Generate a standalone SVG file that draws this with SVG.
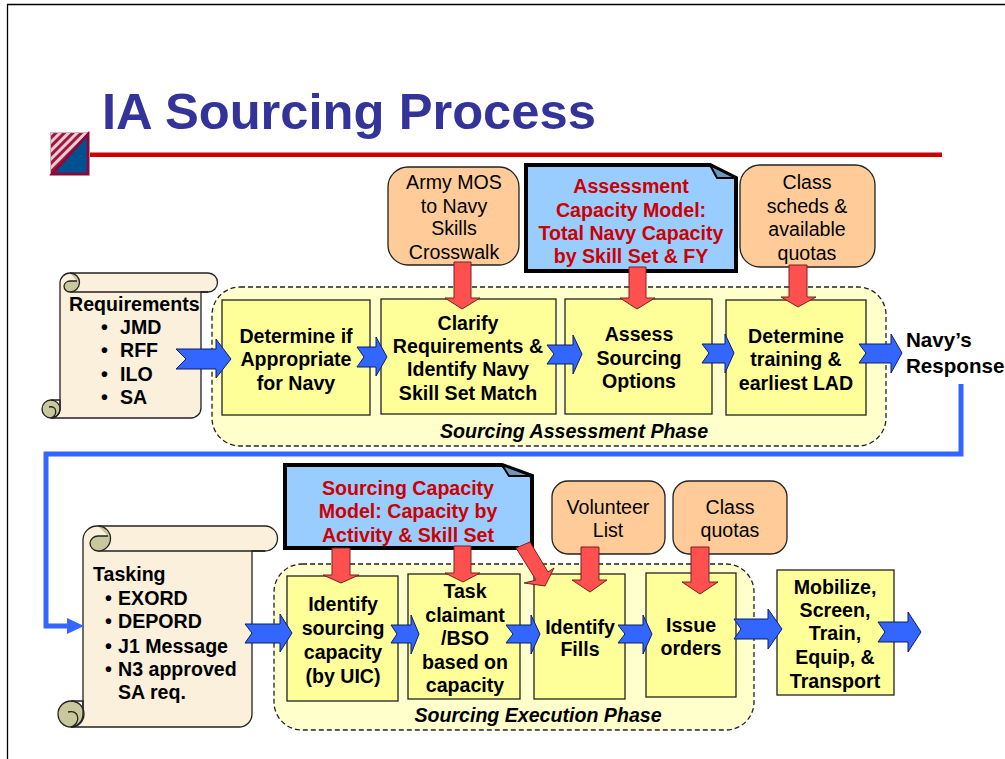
<svg xmlns="http://www.w3.org/2000/svg" width="1005" height="759" viewBox="0 0 1005 759">
<style>
text{font-family:"Liberation Sans",Arial,sans-serif;font-weight:bold;font-size:19.6px;fill:#000;text-anchor:middle;transform:translateY(.7px)}
.title{font-size:50.7px;fill:#333399;text-anchor:start}
.reg{font-weight:normal;font-size:19.6px}
.red{fill:#cc0000}
.phase{font-style:italic;font-size:19.6px}
.start{text-anchor:start}
.big{font-size:20.6px;text-anchor:start}
.cont{fill:#ffffcc;stroke:#222;stroke-width:1.3;stroke-dasharray:5 3}
.box{fill:#ffff99;stroke:#222;stroke-width:1.3}
.orange{fill:#ffcc99;stroke:#222;stroke-width:1.3}
.note{fill:#99ccff;stroke:#000;stroke-width:4;stroke-linejoin:miter}
.fold{fill:#6f96bd;stroke:#000;stroke-width:2}
.scroll{fill:#faf0dc;stroke:#222;stroke-width:1.3}
.line{fill:none;stroke:#222;stroke-width:1.3}
.curl{fill:#c8c89c;stroke:#222;stroke-width:1.3}
.blue{fill:#3366ff;stroke:#0a1f66;stroke-width:1}
.redarrow{fill:#ff5050;stroke:#7a2020;stroke-width:1}
.flow{fill:none;stroke:#3366ff;stroke-width:5}
</style>
<defs>
<pattern id="hatch" width="6" height="6" patternUnits="userSpaceOnUse" patternTransform="rotate(45)">
<rect width="6" height="6" fill="#ddd0d4"/><rect width="3" height="6" fill="#a8123f"/>
</pattern>
</defs>

<g id="frame"><path d="M7.5 759V4.5H1005" fill="none" stroke="#000" stroke-width="1.3"/></g>

<g id="header">
<rect x="89" y="152.500" width="853" height="4.500" fill="#cc0000"/>
<rect x="50" y="132" width="40" height="44" fill="#c9b8bf"/>
<rect x="51" y="133" width="38" height="42" fill="url(#hatch)"/>
<path d="M88 134V174H52Z" fill="#005190" stroke="#990033" stroke-width="2.500"/>
<text class="title" x="102" y="128">IA Sourcing Process</text>
</g>

<g id="phase-assessment">
<rect class="cont" x="212" y="287" width="674" height="159" rx="28"/>
<text class="phase" x="574" y="437">Sourcing Assessment Phase</text>
</g>
<g id="phase-execution">
<rect class="cont" x="274" y="564" width="480" height="166" rx="28"/>
<text class="phase" x="538" y="721">Sourcing Execution Phase</text>
</g>

<g id="requirements">
<path class="scroll" d="M60 283a10 10 0 0 1 10-10H208a9.500 9.500 0 0 1 0 19H201V408a10 10 0 0 1-10 10H51a9 9 0 0 0 9-9Z"/>
<path class="line" d="M70 292H208"/>
<circle class="curl" cx="51" cy="409" r="9"/>
<path class="line" d="M51 400h9v9a9 9 0 0 1-9 9c7-3 6-13-2-11"/>
<path class="curl" d="M70 273a9.500 9.500 0 0 1 0 19a6 6 0 0 1-6-6a6 6 0 0 1 6-5h7"/>
<text class="start" x="69" y="310">Requirements</text>
<text class="start"><tspan x="101" y="333">•</tspan><tspan x="120" y="333">JMD</tspan><tspan x="101" y="356">•</tspan><tspan x="120" y="356">RFF</tspan><tspan x="101" y="380">•</tspan><tspan x="120" y="380">ILO</tspan><tspan x="101" y="403">•</tspan><tspan x="120" y="403">SA</tspan></text>
</g>

<g id="tasking">
<path class="scroll" d="M83 540a14 14 0 0 1 14-14H265a12.500 12.500 0 0 1 0 25H252V714a13 13 0 0 1-13 13H71a13 13 0 0 0 12-13Z"/>
<path class="line" d="M98 551H265"/>
<circle class="curl" cx="71" cy="714" r="13"/>
<path class="line" d="M71 701h12v13a13 13 0 0 1-12 13c10-3 9-18-3-15"/>
<path class="curl" d="M98 526a12.500 12.500 0 0 1 0 25a8 8 0 0 1-8-8a8 8 0 0 1 8-7h10"/>
<text class="start" x="93" y="580">Tasking</text>
<text class="start"><tspan x="105" y="604">•</tspan><tspan x="118" y="604">EXORD</tspan><tspan x="105" y="627">•</tspan><tspan x="118" y="627">DEPORD</tspan><tspan x="105" y="652">•</tspan><tspan x="118" y="652">J1 Message</tspan><tspan x="105" y="675">•</tspan><tspan x="118" y="675">N3 approved</tspan><tspan x="118" y="698">SA req.</tspan></text>
</g>

<g id="determine-appropriate"><rect class="box" x="222" y="300" width="148" height="115"/>
<text><tspan x="296" y="342">Determine if</tspan><tspan x="296" y="365">Appropriate</tspan><tspan x="296" y="389">for Navy</tspan></text></g>
<g id="clarify"><rect class="box" x="381" y="299" width="175" height="115"/>
<text><tspan x="468" y="329">Clarify</tspan><tspan x="468" y="352">Requirements &amp;</tspan><tspan x="468" y="375">Identify Navy</tspan><tspan x="468" y="399">Skill Set Match</tspan></text></g>
<g id="assess"><rect class="box" x="565" y="299" width="147" height="115"/>
<text><tspan x="639" y="340">Assess</tspan><tspan x="639" y="364">Sourcing</tspan><tspan x="639" y="387">Options</tspan></text></g>
<g id="determine-training"><rect class="box" x="726" y="300" width="140" height="115"/>
<text><tspan x="796" y="342">Determine</tspan><tspan x="796" y="365">training &amp;</tspan><tspan x="796" y="389">earliest LAD</tspan></text></g>

<g id="identify-capacity"><rect class="box" x="287" y="576" width="111" height="125"/>
<text><tspan x="343" y="610">Identify</tspan><tspan x="343" y="634">sourcing</tspan><tspan x="343" y="658">capacity</tspan><tspan x="343" y="682">(by UIC)</tspan></text></g>
<g id="task-claimant"><rect class="box" x="408" y="574" width="112" height="125"/>
<text><tspan x="465" y="597">Task</tspan><tspan x="465" y="621">claimant</tspan><tspan x="465" y="644">/BSO</tspan><tspan x="465" y="668">based on</tspan><tspan x="465" y="691">capacity</tspan></text></g>
<g id="identify-fills"><rect class="box" x="534" y="574" width="91" height="125"/>
<text><tspan x="580" y="633">Identify</tspan><tspan x="580" y="655">Fills</tspan></text></g>
<g id="issue-orders"><rect class="box" x="646" y="573" width="90" height="124"/>
<text><tspan x="691" y="631">Issue</tspan><tspan x="691" y="654">orders</tspan></text></g>
<g id="mobilize"><rect class="box" x="777" y="570" width="117" height="125"/>
<text><tspan x="835" y="593">Mobilize,</tspan><tspan x="835" y="616">Screen,</tspan><tspan x="835" y="639">Train,</tspan><tspan x="835" y="663">Equip, &amp;</tspan><tspan x="835" y="687">Transport</tspan></text></g>

<g id="crosswalk"><rect class="orange" x="388" y="167" width="131" height="98" rx="20"/>
<text class="reg"><tspan x="454" y="188">Army MOS</tspan><tspan x="454" y="212">to Navy</tspan><tspan x="454" y="234">Skills</tspan><tspan x="454" y="258">Crosswalk</tspan></text></g>
<g id="class-scheds"><rect class="orange" x="740" y="165" width="135" height="102" rx="20"/>
<text class="reg"><tspan x="807" y="188">Class</tspan><tspan x="807" y="212">scheds &amp;</tspan><tspan x="807" y="235">available</tspan><tspan x="807" y="259">quotas</tspan></text></g>
<g id="volunteer-list"><rect class="orange" x="552" y="481" width="113" height="73" rx="16"/>
<text class="reg"><tspan x="608" y="513">Volunteer</tspan><tspan x="608" y="536">List</tspan></text></g>
<g id="class-quotas"><rect class="orange" x="673" y="481" width="114" height="73" rx="16"/>
<text class="reg"><tspan x="730" y="513">Class</tspan><tspan x="730" y="536">quotas</tspan></text></g>

<g id="assessment-model"><path class="note" d="M526 165H710L736 178V271H526Z"/><path class="fold" d="M710 165L717 178H736Z"/>
<text class="red"><tspan x="631" y="192">Assessment</tspan><tspan x="631" y="216">Capacity Model:</tspan><tspan x="631" y="239">Total Navy Capacity</tspan><tspan x="631" y="262">by Skill Set &amp; FY</tspan></text></g>
<g id="sourcing-model"><path class="note" d="M285 465H502L532 476V548H285Z"/><path class="fold" d="M502 465L509 476H532Z"/>
<text class="red"><tspan x="408" y="494">Sourcing Capacity</tspan><tspan x="408" y="517">Model: Capacity by</tspan><tspan x="408" y="541">Activity &amp; Skill Set</tspan></text></g>

<g id="connectors">
<path class="flow" d="M961 384V454H46V626H70"/>
<path d="M67 618L84 626L67 634Z" fill="#3366ff"/>
<path class="blue" d="M176 349H216V339L231 359L216 378V369H176L186 359Z"/>
<path class="blue" d="M357 347H376V337L387 357L376 376V367H357L364 357Z"/>
<path class="blue" d="M547 345H573V335L582 354L573 374V364H547L554 354Z"/>
<path class="blue" d="M702 344H725V334L734 353L725 373V363H702L709 353Z"/>
<path class="blue" d="M859 344H891V334L902 353L891 373V363H859L866 353Z"/>
<path class="blue" d="M245 624H280V614L292 633L280 652V643H245L252 633Z"/>
<path class="blue" d="M391 625H411V615L419 634L411 654V643H391L397 634Z"/>
<path class="blue" d="M506 625H531V615L540 634L531 654V643H506L513 634Z"/>
<path class="blue" d="M618 625H643V615L652 634L643 654V643H618L625 634Z"/>
<path class="blue" d="M734 619H768V609L782 629L768 649V639H734L741 629Z"/>
<path class="blue" d="M878 622H908V612L921 632L908 652V642H878L885 632Z"/>
<path class="redarrow" d="M454 262H471V298H480L462 309L445 298H454Z"/>
<path class="redarrow" d="M629 267H646V298H655L637 309L620 298H629Z"/>
<path class="redarrow" d="M789 265H807V297H816L798 307L781 297H789Z"/>
<path class="redarrow" d="M332 548H350V575H359L341 583L323 575H332Z"/>
<path class="redarrow" d="M454 546H471V573H480L463 582L445 573H454Z"/>
<path class="redarrow" d="M516 548L530 542L548 572L554 568L545 586L524 583L536 580Z"/>
<path class="redarrow" d="M581 547H599V580H607L590 592L572 580H581Z"/>
<path class="redarrow" d="M691 547H709V582H718L700 594L682 582H691Z"/>
</g>

<g id="response"><text class="big"><tspan x="906" y="346">Navy’s</tspan><tspan x="906" y="372">Response</tspan></text></g>
</svg>
